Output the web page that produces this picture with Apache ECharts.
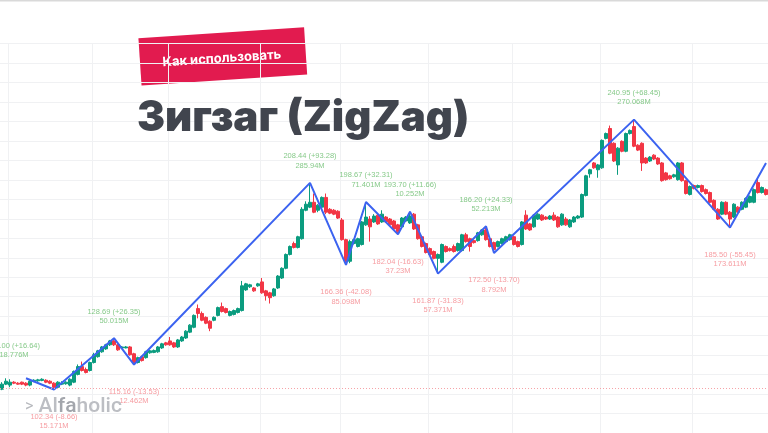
<!DOCTYPE html>
<html>
<head>
<meta charset="utf-8">
<script src="https://cdn.jsdelivr.net/npm/echarts@6/dist/echarts.min.js"></script>
<style>html,body{margin:0;padding:0;background:#fff;}#c{width:768px;height:433px;}</style>
</head>
<body>
<div id="c"></div>
<script>
// ---- data ----
const categories = Array.from({length: 192}, (_, i) => 'D' + (i + 1));
const monthStarts = [2, 23, 42, 65, 85, 107, 128, 150, 173];
// [open, close, low, high]
const candles = [
[102.5,105.1,102.0,106.1],[105.1,106.6,104.6,108.1],[104.6,106.1,103.5,107.6],[106.1,105.6,105.1,106.6],
[105.6,105.1,104.8,106.1],[106.1,105.1,104.6,106.4],[105.6,104.6,104.0,106.1],[104.6,106.6,104.0,107.1],
[106.6,107.1,106.1,107.6],[106.8,107.3,106.3,107.8],[107.0,107.6,106.6,108.1],[107.1,106.1,105.6,107.6],
[106.6,105.6,105.1,107.1],[105.6,103.5,102.34,106.1],[103.5,106.1,103.0,106.6],[105.1,105.6,104.6,106.6],
[105.3,106.1,104.8,106.6],[104.6,107.6,104.0,108.1],[106.1,111.6,105.6,112.1],[110.1,114.1,109.6,115.2],
[114.1,112.1,111.6,116.7],[112.6,111.1,110.6,113.6],[112.1,116.2,111.6,116.7],[116.2,120.2,115.7,121.2],
[119.2,122.2,118.7,122.7],[121.7,124.2,121.2,124.7],[123.2,125.3,122.7,125.8],[125.3,127.3,124.7,127.8],
[127.3,125.3,124.7,128.69],[125.3,122.7,122.2,125.8],[123.7,124.2,123.2,124.7],[123.7,124.2,123.5,124.7],
[124.2,120.2,119.7,124.7],[120.7,116.2,115.16,121.2],[116.2,118.7,115.7,119.2],[119.2,117.2,116.7,119.7],
[118.7,121.7,118.2,122.2],[121.2,122.2,120.7,122.7],[121.4,122.4,121.0,122.9],[121.7,124.2,121.2,124.7],
[123.7,125.8,123.2,126.3],[126.3,125.3,124.8,126.8],[127.3,125.3,124.8,129.3],[126.3,124.2,123.7,126.8],
[124.2,127.8,123.7,128.3],[127.3,129.3,126.8,129.8],[128.8,132.3,128.3,132.8],[131.8,135.4,131.3,135.9],
[134.3,140.4,133.8,140.9],[143.9,141.4,138.9,146.0],[141.4,137.9,137.4,142.4],[139.4,136.4,135.9,139.9],
[137.4,133.8,132.3,137.9],[137.9,139.4,137.4,139.9],[140.4,144.4,139.9,144.9],[144.9,142.4,141.9,147.0],
[143.9,141.9,141.4,144.4],[140.4,142.4,139.9,142.9],[140.9,142.9,140.4,143.4],[141.9,143.9,141.4,144.4],
[142.9,155.6,142.4,158.1],[153.5,156.6,153.0,157.1],[155.1,156.1,154.5,156.6],[154.5,153.0,152.5,155.0],
[155.6,156.6,155.1,157.1],[157.6,152.0,151.5,159.6],[153.0,150.5,148.0,153.5],[152.0,149.5,146.5,152.5],
[150.5,154.0,150.0,154.5],[154.5,160.6,154.0,161.1],[159.6,164.6,159.1,165.1],[164.6,171.7,164.1,172.2],
[171.7,175.8,171.2,176.3],[177.3,175.3,174.8,178.3],[175.3,180.8,174.8,181.3],[179.8,194.9,179.3,196.0],
[194.4,197.5,193.9,199.0],[196.0,198.5,195.5,208.44],[198.5,193.4,192.9,203.0],[194.4,197.0,193.4,197.5],
[196.0,201.0,195.5,201.5],[201.0,193.4,192.4,203.0],[194.9,192.9,192.4,195.5],[194.4,192.4,191.9,195.0],
[193.9,190.4,189.9,194.4],[189.4,179.3,178.8,190.4],[179.3,168.2,166.36,179.8],[168.2,178.3,167.2,179.3],
[177.3,179.3,176.8,179.8],[175.8,179.8,175.3,180.3],[176.8,188.4,176.3,188.9],[186.9,190.9,186.4,198.67],
[189.9,185.9,178.3,191.4],[188.4,191.4,187.9,192.4],[191.9,187.4,186.9,192.9],[188.4,192.4,187.9,194.4],
[190.9,188.4,187.9,191.4],[189.9,186.9,186.4,190.4],[188.9,184.8,184.3,189.4],[186.9,183.3,182.04,187.4],
[185.9,190.4,185.4,190.9],[188.9,190.9,188.4,191.4],[187.9,191.4,187.4,193.7],[192.4,184.8,184.3,193.0],
[186.9,179.8,179.3,187.4],[180.8,175.8,175.3,181.3],[177.3,172.7,172.2,177.8],[174.7,171.7,171.2,175.3],
[173.2,169.7,169.2,173.7],[169.7,171.7,161.87,172.2],[167.7,176.8,167.2,177.3],[175.8,173.2,172.7,176.3],
[174.7,173.7,173.2,175.3],[175.8,173.2,172.7,176.8],[173.7,177.3,173.2,177.8],[173.7,181.8,173.2,182.3],
[181.8,178.3,177.8,182.8],[179.8,175.8,173.2,180.3],[178.8,177.8,177.3,179.3],[178.8,182.8,178.3,183.3],
[181.8,184.3,181.3,184.8],[184.3,179.3,178.8,186.2],[179.8,175.8,175.3,180.3],[177.8,174.2,172.5,178.3],
[175.8,178.3,175.3,178.8],[177.3,179.8,176.8,180.3],[178.3,180.8,177.8,181.3],[179.3,181.8,178.8,182.3],
[180.8,176.8,176.3,181.3],[178.3,175.8,175.3,178.8],[176.8,188.4,176.3,188.9],[191.9,184.8,184.3,194.4],
[187.4,184.3,183.8,187.9],[185.9,191.9,185.4,192.4],[189.9,192.4,189.4,192.9],[191.9,189.4,188.9,192.4],
[190.9,189.9,189.4,191.4],[189.9,191.4,189.4,191.9],[191.9,189.4,188.9,193.4],[190.9,185.9,185.4,191.4],
[186.9,192.4,186.4,192.9],[189.9,186.9,186.4,190.9],[185.9,189.4,185.4,189.9],[188.4,190.9,187.9,191.4],
[190.4,191.4,189.9,191.9],[190.9,202.5,190.4,203.0],[202.0,212.1,201.5,212.6],[213.1,215.2,211.1,215.7],
[218.7,216.2,215.7,219.2],[215.2,217.7,211.1,218.2],[216.2,230.3,215.7,230.8],[231.3,233.8,230.8,234.3],
[236.4,223.7,223.2,237.9],[228.8,219.7,219.2,229.3],[217.7,226.3,212.6,226.8],[229.8,224.7,224.2,230.3],
[224.7,233.8,224.2,234.3],[233.8,235.4,233.3,235.9],[237.4,227.3,226.8,240.95],[227.8,225.3,224.8,228.3],
[228.8,218.7,214.6,229.3],[221.2,218.7,218.2,221.7],[219.7,221.7,219.2,222.2],[222.7,220.7,220.2,223.2],
[221.2,218.2,217.7,221.7],[218.7,209.6,209.1,219.2],[213.6,210.1,209.6,214.1],[212.1,210.6,210.1,212.6],
[211.6,212.6,211.1,213.1],[210.1,218.7,209.6,219.2],[218.7,209.6,209.1,219.2],[209.6,203.0,202.5,210.1],
[202.5,206.6,202.0,207.1],[207.1,205.6,205.1,207.6],[206.1,207.1,205.6,207.6],[207.1,204.0,203.5,207.6],
[205.0,203.0,202.5,205.6],[203.5,198.5,198.0,204.0],[199.5,194.9,194.4,200.0],[194.9,189.9,189.4,195.5],
[192.4,198.5,191.9,199.0],[198.5,192.4,191.9,199.0],[193.4,189.9,185.5,194.0],[190.9,197.5,190.4,198.0],
[196.0,193.4,192.9,196.5],[194.9,198.5,194.4,199.0],[196.0,200.5,195.5,201.0],[198.5,201.5,198.0,202.0],
[198.5,205.0,198.0,205.6],[208.6,203.5,203.0,211.1],[203.5,206.1,203.0,206.6],[205.0,202.5,202.0,205.6]
];
// zigzag vertices [candle index, price]
const zigzag = [[6,108.1],[13,102.34],[28,128.69],[33,115.16],[77,208.44],[86,166.36],[91,198.67],[99,182.04],
[102,193.70],[109,161.87],[121,186.20],[123,172.50],[158,240.95],[182,185.50],[191,218.7]];
// pivot labels
const pivotIndex  = [3, 13, 28, 33, 77, 86, 91, 99, 102, 109, 121, 123, 158, 182];
const pivotPrice  = ['111.00','102.34','128.69','115.16','208.44','166.36','198.67','182.04','193.70','161.87','186.20','172.50','240.95','185.50'];
const pivotChange = ['+16.64','-8.66','+26.35','-13.53','+93.28','-42.08','+32.31','-16.63','+11.66','-31.83','+24.33','-13.70','+68.45','-55.45'];
const pivotVolume = ['18.776M','15.171M','50.015M','12.462M','285.94M','85.098M','71.401M','37.23M','10.252M','57.371M','52.213M','8.792M','270.068M','173.611M'];
const lastPriceLine = 102.8;
const titleText = 'Зигзаг (ZigZag)';
const badgeText = 'Как использовать';

// ---- chart ----
const GREEN = '#0b9c7f', RED = '#f23645';
const LBL_G = '#66bb6a', LBL_R = '#f4838a';
const chart = echarts.init(document.getElementById('c'), null, {renderer: 'canvas'});

const labelData = pivotIndex.map((idx, k) => {
  const up = pivotChange[k][0] === '+';
  return {
    value: [idx, parseFloat(pivotPrice[k])],
    txt: pivotPrice[k] + ' (' + pivotChange[k] + ')\n' + pivotVolume[k],
    label: {position: up ? 'top' : 'bottom', distance: up ? 12 : 22, color: up ? LBL_G : LBL_R}
  };
});

chart.setOption({
  animation: false,
  backgroundColor: '#ffffff',
  grid: {left: 0, right: 0, top: 43.6, height: 396, containLabel: false},
  xAxis: {
    type: 'category', data: categories, boundaryGap: true,
    axisLine: {show: false}, axisTick: {show: false}, axisLabel: {show: false},
    splitLine: {show: true, interval: (i) => monthStarts.indexOf(i) >= 0, lineStyle: {color: '#f0f1f3', width: 1}}
  },
  yAxis: {
    type: 'value', min: 80, max: 280, interval: 10, scale: true,
    axisLine: {show: false}, axisTick: {show: false}, axisLabel: {show: false},
    splitLine: {show: true, lineStyle: {color: '#f0f1f3', width: 1}}
  },
  series: [
    {
      type: 'candlestick', data: candles, barWidth: 3,
      itemStyle: {color: GREEN, color0: RED, borderColor: GREEN, borderColor0: RED, borderWidth: 1},
      markLine: {
        silent: true, symbol: 'none', label: {show: false},
        lineStyle: {color: '#f6a3a8', type: [1, 2], width: 1},
        data: [{yAxis: lastPriceLine}]
      },
      z: 2
    },
    {
      type: 'line', data: zigzag, showSymbol: false, symbol: 'none',
      lineStyle: {color: '#3c63f0', width: 2}, z: 3
    },
    {
      type: 'scatter', data: labelData, symbolSize: 1, itemStyle: {color: 'rgba(0,0,0,0)'},
      label: {
        show: true, formatter: (p) => p.data.txt, fontSize: 7.5, lineHeight: 9.5,
        fontFamily: 'Liberation Sans', align: 'center'
      },
      z: 4
    }
  ],
  graphic: [
    {type: 'line', shape: {x1: 0, y1: 0.75, x2: 768, y2: 0.75}, style: {stroke: '#d9d9d9', lineWidth: 1.5}, z: 10},
    {
      type: 'group', x: 222.8, y: 56.4, rotation: 0.066, z: 20,
      children: [
        {type: 'rect', shape: {x: -83, y: -23.75, width: 166, height: 47.5}, style: {fill: '#e21b4f'}},
        {type: 'text', style: {text: badgeText, x: -1, y: 2, fill: '#ffffff', font: '700 13px Inter', textAlign: 'center', textVerticalAlign: 'middle'}}
      ]
    },
    {type: 'text', z: 20, style: {text: titleText, x: 137, y: 118, fill: '#41454e', font: '900 42px Inter', textAlign: 'left', textVerticalAlign: 'middle'}},
    {type: 'text', z: 20, style: {
      text: '{a|>}{b| Al}{c|fa}{b|holic}', x: 25, y: 407, textVerticalAlign: 'middle',
      rich: {
        a: {fontSize: 16, fontFamily: 'Roboto', fontWeight: 400, fill: '#b7b9be'},
        b: {fontSize: 21, fontFamily: 'Roboto', fontWeight: 500, fill: '#bcbec3'},
        c: {fontSize: 21, fontFamily: 'Roboto', fontWeight: 500, fill: '#a3a6ac'}
      }
    }}
  ]
});
</script>
</body>
</html>
